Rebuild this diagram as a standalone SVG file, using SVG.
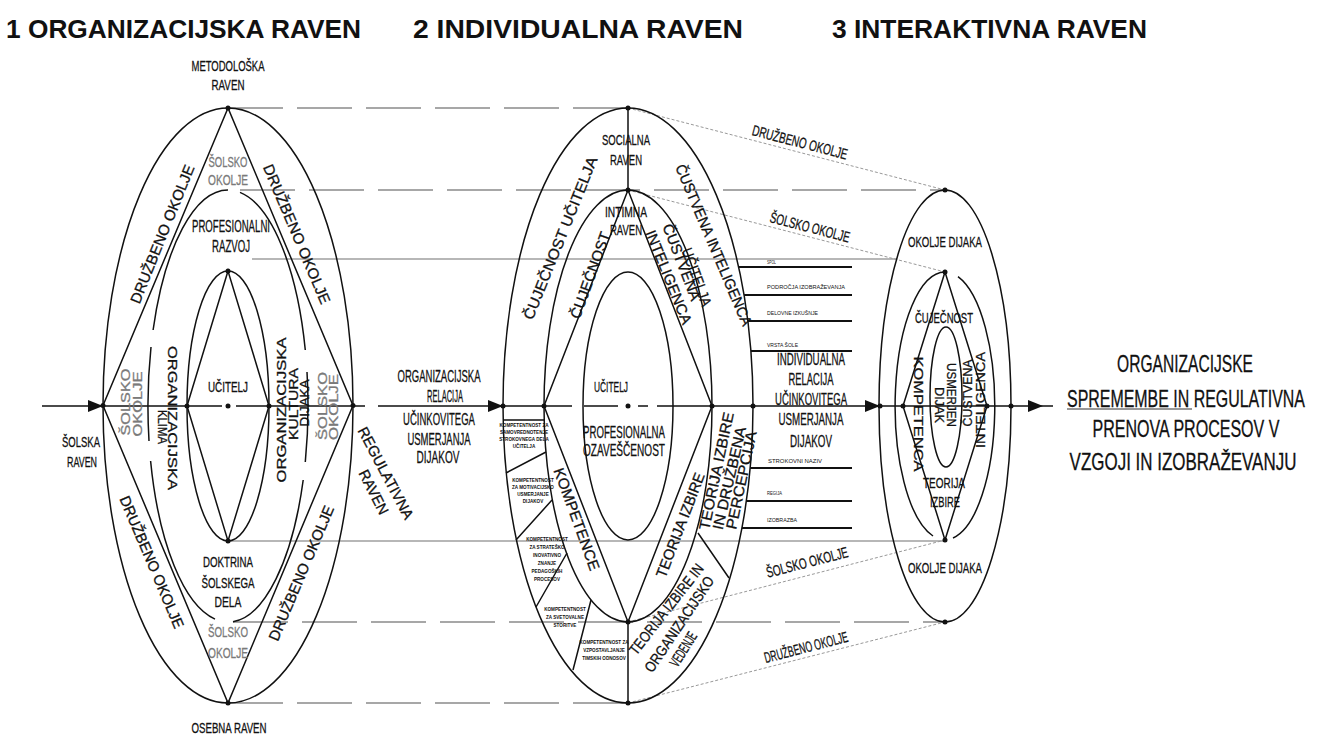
<svg xmlns="http://www.w3.org/2000/svg" width="1324" height="734" viewBox="0 0 1324 734">
<style>
.ln{stroke:#111;stroke-width:1.5;fill:none}
.g{stroke:#a0a0a0;stroke-width:1.3;fill:none}
.d{stroke:#8a8a8a;stroke-width:1.6;stroke-dasharray:55 14;fill:none}
.th{stroke:#999;stroke-width:1;stroke-dasharray:3 2;fill:none}
.bar{stroke:#111;stroke-width:2}
text{font-family:"Liberation Sans",Arial,sans-serif;fill:#111;stroke:#111;stroke-width:.3}
.t{font-size:15px;text-anchor:middle}
.m{font-size:17px;text-anchor:middle}
.v{font-size:13px;text-anchor:middle;dominant-baseline:central}
.c{font-size:15px;text-anchor:middle;dominant-baseline:central}
.gr{fill:#7a7a7a;stroke:#7a7a7a}
.sm{font-size:4.6px;font-weight:bold;text-anchor:middle;stroke:none}
.lb{font-size:6px;stroke:none}
.h{font-size:25px;font-weight:bold;stroke:none}
.r{font-size:23px;text-anchor:middle}
</style>
<defs>
<polygon id="ah" points="-15,-6 0,0 -15,6" fill="#111"/>
<circle id="dt" r="2.5" fill="#111"/>
</defs>

<g id="titles">
<text class="h" x="6" y="38" textLength="355" lengthAdjust="spacingAndGlyphs">1 ORGANIZACIJSKA RAVEN</text>
<text class="h" x="413" y="38" textLength="330" lengthAdjust="spacingAndGlyphs">2 INDIVIDUALNA RAVEN</text>
<text class="h" x="832" y="38" textLength="315" lengthAdjust="spacingAndGlyphs">3 INTERAKTIVNA RAVEN</text>
</g>

<g id="connectors">
<path class="d" d="M228 108H628M240 190H945M233 622H945M228 703H628"/>
<path class="g" d="M252 259H897M230 541H945"/>
<path class="th" d="M628 108L945 190M628 190L945 272M628 622L945 540M628 703L945 622"/>
<path class="ln" d="M42 406H222M236 406H365M378 406H572M584 406H618M638 406H648M657 406H1053"/>
<use href="#ah" x="103" y="406"/>
<use href="#ah" x="503" y="406"/>
<use href="#ah" x="880" y="406"/>
<use href="#ah" x="1043" y="406"/>
<text class="c" transform="translate(800,142) rotate(14.5)" textLength="98" lengthAdjust="spacingAndGlyphs">DRUŽBENO OKOLJE</text>
<text class="c" transform="translate(810,227) rotate(14.5)" textLength="82" lengthAdjust="spacingAndGlyphs">ŠOLSKO OKOLJE</text>
<text class="c" transform="translate(807,562) rotate(-14.5)" textLength="84" lengthAdjust="spacingAndGlyphs">ŠOLSKO OKOLJE</text>
<text class="c" transform="translate(806,647) rotate(-14.5)" textLength="86" lengthAdjust="spacingAndGlyphs">DRUŽBENO OKOLJE</text>
</g>

<g id="left">
<ellipse class="ln" cx="228" cy="405.5" rx="125" ry="297.5"/>
<path class="ln" d="M228 108L103 405.5L228 703L353 405.5Z"/>
<path class="ln" d="M228 190A80 216 0 0 0 153.1 330M151 347A80 216 0 0 0 149 441M150.6 461A80 216 0 0 0 215 619.1M233 621.8A80 216 0 0 0 303.2 480M305.3 462A80 216 0 0 0 307 372M305.3 350A80 216 0 0 0 240 192.4"/>
<path class="ln" d="M228 271L187 406L228 541L269 406Z"/>
<ellipse class="ln" cx="228" cy="406" rx="41" ry="135"/>
<use href="#dt" x="228" y="108"/><use href="#dt" x="103" y="405.5"/><use href="#dt" x="187" y="406"/><use href="#dt" x="228" y="406"/><use href="#dt" x="269" y="406"/><use href="#dt" x="353" y="405.5"/><use href="#dt" x="228" y="271"/><use href="#dt" x="228" y="541"/><use href="#dt" x="228" y="703"/>
<text class="t" x="228" y="71" textLength="73" lengthAdjust="spacingAndGlyphs">METODOLOŠKA</text>
<text class="t" x="228" y="90" textLength="33" lengthAdjust="spacingAndGlyphs">RAVEN</text>
<text class="t gr" x="228" y="167" textLength="39" lengthAdjust="spacingAndGlyphs">ŠOLSKO</text>
<text class="t gr" x="228" y="185" textLength="40" lengthAdjust="spacingAndGlyphs">OKOLJE</text>
<text class="m" x="231" y="232" textLength="78" lengthAdjust="spacingAndGlyphs">PROFESIONALNI</text>
<text class="m" x="231" y="252" textLength="38" lengthAdjust="spacingAndGlyphs">RAZVOJ</text>
<text class="t" x="228" y="392" textLength="40" lengthAdjust="spacingAndGlyphs">UČITELJ</text>
<text class="c" transform="translate(162,234) rotate(-68)" textLength="148" lengthAdjust="spacingAndGlyphs">DRUŽBENO OKOLJE</text>
<text class="c" transform="translate(297,234) rotate(67)" textLength="150" lengthAdjust="spacingAndGlyphs">DRUŽBENO OKOLJE</text>
<text class="v gr" transform="translate(125,402) rotate(-90)" textLength="67" lengthAdjust="spacingAndGlyphs">ŠOLSKO</text>
<text class="v gr" transform="translate(137,404) rotate(-90)" textLength="65" lengthAdjust="spacingAndGlyphs">OKOLJE</text>
<text class="v" transform="translate(172,418) rotate(90)" textLength="144" lengthAdjust="spacingAndGlyphs">ORGANIZACIJSKA</text>
<text class="v" transform="translate(162,427) rotate(90)" textLength="34" lengthAdjust="spacingAndGlyphs">KLIMA</text>
<text class="v" transform="translate(281,410) rotate(-90)" textLength="145" lengthAdjust="spacingAndGlyphs">ORGANIZACIJSKA</text>
<text class="v" transform="translate(293,404) rotate(-90)" textLength="72" lengthAdjust="spacingAndGlyphs">KULTURA</text>
<text class="v" transform="translate(304,403) rotate(-90)" textLength="47" lengthAdjust="spacingAndGlyphs">DIJAKA</text>
<text class="v gr" transform="translate(322,406) rotate(-90)" textLength="68" lengthAdjust="spacingAndGlyphs">ŠOLSKO</text>
<text class="v gr" transform="translate(333,407) rotate(-90)" textLength="66" lengthAdjust="spacingAndGlyphs">OKOLJE</text>
<text class="t" x="81" y="447" textLength="38" lengthAdjust="spacingAndGlyphs">ŠOLSKA</text>
<text class="t" x="82" y="467" textLength="30" lengthAdjust="spacingAndGlyphs">RAVEN</text>
<text class="c" transform="translate(386,473) rotate(62)" textLength="102" lengthAdjust="spacingAndGlyphs">REGULATIVNA</text>
<text class="c" transform="translate(374,492) rotate(63)" textLength="48" lengthAdjust="spacingAndGlyphs">RAVEN</text>
<text class="c" transform="translate(152,562) rotate(67)" textLength="142" lengthAdjust="spacingAndGlyphs">DRUŽBENO OKOLJE</text>
<text class="c" transform="translate(301,573) rotate(-67)" textLength="145" lengthAdjust="spacingAndGlyphs">DRUŽBENO OKOLJE</text>
<text class="t" x="228" y="567" textLength="50" lengthAdjust="spacingAndGlyphs">DOKTRINA</text>
<text class="t" x="228" y="588" textLength="53" lengthAdjust="spacingAndGlyphs">ŠOLSKEGA</text>
<text class="t" x="228" y="607" textLength="27" lengthAdjust="spacingAndGlyphs">DELA</text>
<text class="t gr" x="228" y="637" textLength="40" lengthAdjust="spacingAndGlyphs">ŠOLSKO</text>
<text class="t gr" x="228" y="658" textLength="40" lengthAdjust="spacingAndGlyphs">OKOLJE</text>
<text class="t" x="229" y="733" textLength="75" lengthAdjust="spacingAndGlyphs">OSEBNA RAVEN</text>
</g>

<g id="middle">
<ellipse class="ln" cx="628" cy="405.5" rx="125" ry="297.5"/>
<ellipse class="ln" cx="628" cy="406" rx="84" ry="216"/>
<path class="ln" d="M628 190L544 406L628 622L712 406Z"/>
<ellipse class="ln" cx="628" cy="406" rx="45" ry="134"/>
<path class="ln" d="M628 108V190M628 622V703"/>
<path class="ln" d="M503 420H544M506 473L546 452M516 540L552 500M536 607L567 553M573 670L591 600M698 533L729 578"/>
<path class="bar" d="M738.6 267H852M744.1 295H852M747.9 321H852M750.9 351H852M750.2 468H852M746.4 501H852M741.9 528H852"/>
<use href="#dt" x="628" y="108"/><use href="#dt" x="628" y="190"/><use href="#dt" x="503" y="406"/><use href="#dt" x="544" y="406"/><use href="#dt" x="628" y="406"/><use href="#dt" x="712" y="406"/><use href="#dt" x="753" y="406"/><use href="#dt" x="628" y="622"/><use href="#dt" x="628" y="703"/>
<text class="t" x="626" y="145" textLength="48" lengthAdjust="spacingAndGlyphs">SOCIALNA</text>
<text class="t" x="626" y="165" textLength="32" lengthAdjust="spacingAndGlyphs">RAVEN</text>
<text class="t" x="626" y="217" textLength="42" lengthAdjust="spacingAndGlyphs">INTIMNA</text>
<text class="t" x="626" y="235" textLength="32" lengthAdjust="spacingAndGlyphs">RAVEN</text>
<text class="c" transform="translate(560,238) rotate(-68)" textLength="174" lengthAdjust="spacingAndGlyphs">ČUJEČNOST UČITELJA</text>
<text class="c" transform="translate(590,275) rotate(-70)" textLength="91" lengthAdjust="spacingAndGlyphs">ČUJEČNOST</text>
<text class="c" transform="translate(714,245) rotate(67)" textLength="174" lengthAdjust="spacingAndGlyphs">ČUSTVENA INTELIGENCA</text>
<text class="c" transform="translate(669,277) rotate(68)" textLength="100" lengthAdjust="spacingAndGlyphs">INTELIGENCA</text>
<text class="c" transform="translate(682,262) rotate(69)" textLength="81" lengthAdjust="spacingAndGlyphs">ČUSTVENA</text>
<text class="c" transform="translate(697,277) rotate(70)" textLength="61" lengthAdjust="spacingAndGlyphs">UČITELJA</text>
<text class="t" x="611" y="392" textLength="34" lengthAdjust="spacingAndGlyphs">UČITELJ</text>
<text class="m" x="624" y="438" textLength="82" lengthAdjust="spacingAndGlyphs">PROFESIONALNA</text>
<text class="m" x="624" y="456" textLength="82" lengthAdjust="spacingAndGlyphs">OZAVEŠČENOST</text>
<text class="m" transform="translate(439,382) scale(0.58,1)" textLength="143" lengthAdjust="spacingAndGlyphs">ORGANIZACIJSKA</text>
<text class="m" transform="translate(445,402) scale(0.58,1)" textLength="62" lengthAdjust="spacingAndGlyphs">RELACIJA</text>
<text class="m" transform="translate(439,425) scale(0.58,1)" textLength="124" lengthAdjust="spacingAndGlyphs">UČINKOVITEGA</text>
<text class="m" transform="translate(439,445) scale(0.58,1)" textLength="109" lengthAdjust="spacingAndGlyphs">USMERJANJA</text>
<text class="m" transform="translate(438,463) scale(0.58,1)" textLength="74" lengthAdjust="spacingAndGlyphs">DIJAKOV</text>
<text class="c" transform="translate(577,519) rotate(70)" textLength="108" lengthAdjust="spacingAndGlyphs">KOMPETENCE</text>
<text class="c" transform="translate(680,525) rotate(-69)" textLength="111" lengthAdjust="spacingAndGlyphs">TEORIJA IZBIRE</text>
<text class="c" transform="translate(716,471) rotate(-78)" textLength="120" lengthAdjust="spacingAndGlyphs">TEORIJA IZBIRE</text>
<text class="c" transform="translate(729,478) rotate(-77)" textLength="105" lengthAdjust="spacingAndGlyphs">IN DRUŽBENA</text>
<text class="c" transform="translate(741,480) rotate(-78)" textLength="100" lengthAdjust="spacingAndGlyphs">PERCEPCIJA</text>
<text class="c" transform="translate(666,609) rotate(-52)" textLength="111" lengthAdjust="spacingAndGlyphs">TEORIJA IZBIRE IN</text>
<text class="c" transform="translate(679,624) rotate(-56)" textLength="112" lengthAdjust="spacingAndGlyphs">ORGANIZACIJSKO</text>
<text class="c" transform="translate(683,649) rotate(-58)" textLength="38" lengthAdjust="spacingAndGlyphs">VEDENJE</text>
<text class="m" x="811" y="365" textLength="68" lengthAdjust="spacingAndGlyphs">INDIVIDUALNA</text>
<text class="m" x="811" y="385" textLength="45" lengthAdjust="spacingAndGlyphs">RELACIJA</text>
<text class="m" x="811" y="405" textLength="72" lengthAdjust="spacingAndGlyphs">UČINKOVITEGA</text>
<text class="m" x="811" y="425" textLength="65" lengthAdjust="spacingAndGlyphs">USMERJANJA</text>
<text class="m" x="811" y="447" textLength="42" lengthAdjust="spacingAndGlyphs">DIJAKOV</text>
<text class="lb" x="767" y="264" textLength="9" lengthAdjust="spacingAndGlyphs">SPOL</text>
<text class="lb" x="767" y="289" textLength="78" lengthAdjust="spacingAndGlyphs">PODROČJA IZOBRAŽEVANJA</text>
<text class="lb" x="767" y="315" textLength="51" lengthAdjust="spacingAndGlyphs">DELOVNE IZKUŠNJE</text>
<text class="lb" x="767" y="347" textLength="31" lengthAdjust="spacingAndGlyphs">VRSTA ŠOLE</text>
<text class="lb" x="768" y="463" textLength="54" lengthAdjust="spacingAndGlyphs">STROKOVNI NAZIV</text>
<text class="lb" x="767" y="495" textLength="15" lengthAdjust="spacingAndGlyphs">REGIJA</text>
<text class="lb" x="767" y="522" textLength="30" lengthAdjust="spacingAndGlyphs">IZOBRAZBA</text>
<text class="sm" x="524" y="427">KOMPETENTNOST ZA<tspan x="524" dy="7">SAMOVREDNOTENJE</tspan><tspan x="524" dy="7">STROKOVNEGA DELA</tspan><tspan x="524" dy="7">UČITELJA</tspan></text>
<text class="sm" x="533" y="482">KOMPETENTNOST<tspan x="533" dy="7">ZA MOTIVACIJSKO</tspan><tspan x="533" dy="7">USMERJANJE</tspan><tspan x="533" dy="7">DIJAKOV</tspan></text>
<text class="sm" x="547" y="541">KOMPETENTNOST<tspan x="547" dy="8">ZA STRATEŠKO</tspan><tspan x="547" dy="8">INOVATIVNO</tspan><tspan x="547" dy="8">ZNANJE</tspan><tspan x="547" dy="8">PEDAGOŠKIH</tspan><tspan x="547" dy="8">PROCESOV</tspan></text>
<text class="sm" x="565" y="611">KOMPETENTNOST<tspan x="565" dy="8">ZA SVETOVALNE</tspan><tspan x="565" dy="8">STORITVE</tspan></text>
<text class="sm" x="604" y="644">KOMPETENTNOST ZA<tspan x="604" dy="8">VZPOSTAVLJANJE</tspan><tspan x="604" dy="8">TIMSKIH ODNOSOV</tspan></text>
</g>

<g id="right">
<ellipse class="ln" cx="945" cy="406" rx="66" ry="216"/>
<path class="ln" d="M945 272A50 134 0 0 0 933 536M953 538A50 134 0 0 0 958 276.6"/>
<path class="ln" d="M945 272L903 406L945 540L987 406Z"/>
<ellipse class="ln" cx="946" cy="397" rx="16" ry="70"/>
<use href="#dt" x="945" y="190"/><use href="#dt" x="945" y="272"/><use href="#dt" x="880" y="406"/><use href="#dt" x="903" y="406"/><use href="#dt" x="987" y="406"/><use href="#dt" x="1011" y="406"/><use href="#dt" x="945" y="540"/><use href="#dt" x="945" y="622"/>
<text class="t" x="945" y="247" textLength="74" lengthAdjust="spacingAndGlyphs">OKOLJE DIJAKA</text>
<text class="t" x="944" y="323" textLength="58" lengthAdjust="spacingAndGlyphs">ČUJEČNOST</text>
<text class="v" transform="translate(918,414) rotate(90)" textLength="115" lengthAdjust="spacingAndGlyphs">KOMPETENCA</text>
<text class="v" transform="translate(951,395) rotate(90)" textLength="64" lengthAdjust="spacingAndGlyphs">USMERJEN</text>
<text class="v" transform="translate(939,405) rotate(90)" textLength="36" lengthAdjust="spacingAndGlyphs">DIJAK</text>
<text class="v" transform="translate(967,393) rotate(-90)" textLength="67" lengthAdjust="spacingAndGlyphs">ČUSTVENA</text>
<text class="v" transform="translate(980,400) rotate(-90)" textLength="96" lengthAdjust="spacingAndGlyphs">INTELIGENCA</text>
<text class="t" x="944" y="488" textLength="42" lengthAdjust="spacingAndGlyphs">TEORIJA</text>
<text class="t" x="945" y="507" textLength="30" lengthAdjust="spacingAndGlyphs">IZBIRE</text>
<text class="t" x="945" y="573" textLength="74" lengthAdjust="spacingAndGlyphs">OKOLJE DIJAKA</text>
</g>

<g id="result">
<text class="r" transform="translate(1185,372) scale(0.7,1)" textLength="194" lengthAdjust="spacingAndGlyphs">ORGANIZACIJSKE</text>
<text class="r" transform="translate(1186,407) scale(0.7,1)" textLength="340" lengthAdjust="spacingAndGlyphs">SPREMEMBE IN REGULATIVNA</text>
<path d="M1067 409H1192" stroke="#333" stroke-width="1.2"/>
<text class="r" transform="translate(1186,437) scale(0.7,1)" textLength="267" lengthAdjust="spacingAndGlyphs">PRENOVA PROCESOV V</text>
<text class="r" transform="translate(1183,470) scale(0.7,1)" textLength="324" lengthAdjust="spacingAndGlyphs">VZGOJI IN IZOBRAŽEVANJU</text>
</g>
</svg>
